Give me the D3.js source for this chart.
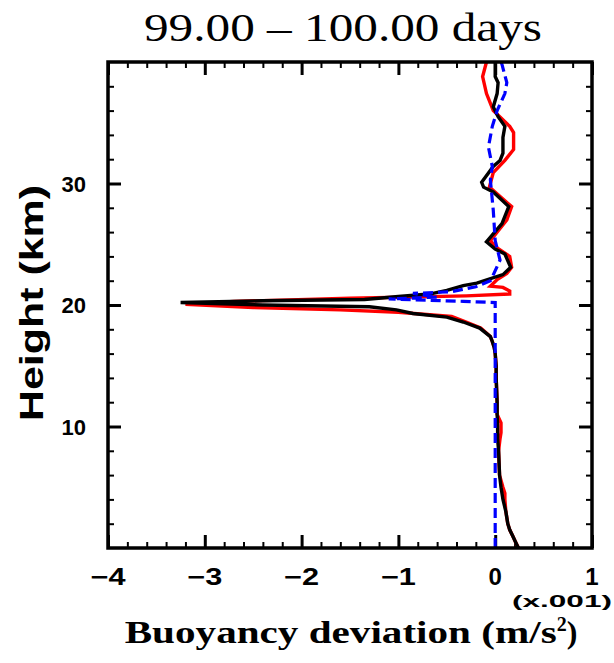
<!DOCTYPE html>
<html>
<head>
<meta charset="utf-8">
<script src="https://cdn.jsdelivr.net/npm/d3@7"></script>
<style>
  body { margin: 0; background: #fff; }
  svg { display: block; }
</style>
</head>
<body>
<svg id="chart" width="614" height="663"></svg>
<script>
// Profiles of buoyancy deviation (units of 0.001 m/s^2) against height (km)
const blackHeight = [0, 0.5, 1, 1.5, 2, 2.5, 3, 4, 5, 6, 7, 8, 9, 10, 11, 12, 13, 14, 15, 16, 16.5, 17, 17.4, 18.1, 18.6, 19.0, 19.3, 19.6, 19.85, 20.0, 20.2, 20.35, 20.45, 20.7, 20.9, 21.2, 21.6, 21.8, 22.5, 23.1, 24.2, 24.6, 25.2, 26.7, 28.1, 29.3, 29.7, 30.1, 31.4, 31.9, 32.5, 33.8, 34.7, 35.5, 36.3, 37.4, 38.3, 38.8, 40];
const blackValue  = [0.24, 0.21, 0.18, 0.15, 0.13, 0.12, 0.11, 0.08, 0.06, 0.045, 0.04, 0.035, 0.025, 0.025, 0.02, 0.02, 0.015, 0.01, 0.01, 0.0, -0.01, -0.03, -0.05, -0.16, -0.33, -0.5, -0.85, -1.02, -1.3, -2.4, -3.25, -2.4, -1.35, -1.0, -0.68, -0.5, -0.33, -0.19, 0.08, 0.16, 0.1, 0.0, -0.09, 0.07, 0.14, -0.02, -0.12, -0.14, -0.02, 0.05, 0.08, 0.08, 0.1, 0.03, -0.02, 0.02, 0.03, 0.0, 0.0];

const redHeight = [0, 0.5, 1, 1.5, 2, 2.5, 3, 4, 4.5, 5, 6, 7, 8, 9, 9.5, 10.3, 11, 12, 13, 14, 15, 16, 16.5, 17, 17.4, 18.1, 18.6, 19.05, 19.4, 19.6, 19.8, 20.05, 20.3, 20.55, 20.75, 20.9, 21.15, 21.45, 21.55, 22.1, 22.6, 23.1, 24.0, 24.8, 25.3, 27.0, 28.1, 29.7, 30.9, 31.9, 32.8, 34.2, 34.7, 36.0, 37.4, 38.8, 40];
const redValue  = [0.24, 0.21, 0.18, 0.15, 0.13, 0.12, 0.11, 0.1, 0.1, 0.08, 0.045, 0.04, 0.035, 0.05, 0.06, 0.06, 0.02, 0.02, 0.015, 0.01, 0.01, 0.0, -0.01, -0.03, -0.05, -0.15, -0.3, -0.45, -1.0, -1.6, -2.5, -3.2, -2.7, -1.5, -0.3, 0.15, 0.15, 0.08, -0.05, 0.02, 0.12, 0.17, 0.15, 0.0, -0.05, 0.12, 0.17, -0.06, -0.02, 0.1, 0.19, 0.19, 0.15, -0.02, -0.09, -0.13, -0.09];

const blueHeight = [0, 20.2, 20.3, 20.5, 20.65, 20.95, 21.1, 21.5, 22.0, 22.3, 23.7, 25.3, 27.8, 30.3, 31.4, 33.0, 34.7, 36.0, 37.4, 38.3, 39.8, 40];
const blueValue  = [0, 0, -0.33, -1.1, -0.6, -0.85, -0.45, -0.2, -0.05, -0.03, 0.05, 0.0, -0.02, -0.05, -0.03, -0.07, -0.03, 0.02, 0.1, 0.12, 0.07, 0.06];

const xTickValues = [-4, -3, -2, -1, 0, 1];
const xTickLabels = ["\u22124", "\u22123", "\u22122", "\u22121", "0", "1"];
const yTickValues = [10, 20, 30];
const yTickLabels = ["10", "20", "30"];

const titleText = "99.00 \u2013 100.00 days";
const xLabelText = "Buoyancy deviation (m/s";
const yLabelText = "Height  (km)";
const scaleNote = "(x.001)";

// Layout
const frameLeft = 108, frameRight = 592, frameTop = 62, frameBottom = 548;
const svg = d3.select("#chart");

const x = d3.scaleLinear().domain([-4, 1]).range([frameLeft, frameRight]);
const y = d3.scaleLinear().domain([0, 40]).range([frameBottom, frameTop]);

const xMinor = d3.range(-4, 1.0001, 0.2).filter(v => Math.abs(v - Math.round(v)) > 1e-6);
const yMinor = d3.range(0, 40.0001, 2).filter(v => v % 10 !== 0);

const majorLen = 13, minorLen = 6;

function styleTicks(g, width) {
  g.select(".domain").remove();
  g.selectAll(".tick line").attr("stroke", "#000").attr("stroke-width", width);
  g.selectAll(".tick text").remove();
}

// inward ticks on all four sides
const tickSets = [
  [() => d3.axisBottom(x), frameBottom, "x"],
  [() => d3.axisTop(x), frameTop, "x"],
  [() => d3.axisLeft(y), frameLeft, "y"],
  [() => d3.axisRight(y), frameRight, "y"]
];
tickSets.forEach(([makeAxis, pos, dir]) => {
  const tr = dir === "x" ? `translate(0,${pos})` : `translate(${pos},0)`;
  const majors = dir === "x" ? xTickValues : yTickValues;
  const minors = dir === "x" ? xMinor : yMinor;
  svg.append("g").attr("transform", tr)
    .call(makeAxis().tickValues(majors).tickSizeInner(-majorLen).tickSizeOuter(0))
    .call(g => styleTicks(g, 3));
  svg.append("g").attr("transform", tr)
    .call(makeAxis().tickValues(minors).tickSizeInner(-minorLen).tickSizeOuter(0))
    .call(g => styleTicks(g, 2));
});

// tick labels
const tickFont = "'Liberation Sans', Arial, sans-serif";
svg.append("g").selectAll("text").data(xTickValues).join("text")
  .attr("x", d => x(d)).attr("y", 585)
  .attr("text-anchor", "middle")
  .attr("font-family", tickFont).attr("font-weight", "bold").attr("font-size", 24)
  .each(function(d, i) {
    const t = d3.select(this).text(xTickLabels[i]);
    if (xTickLabels[i].length > 1) t.attr("textLength", 35).attr("lengthAdjust", "spacingAndGlyphs");
  });

svg.append("g").selectAll("text").data(yTickValues).join("text")
  .attr("x", 86).attr("y", d => y(d) + 8)
  .attr("text-anchor", "end")
  .attr("font-family", tickFont).attr("font-weight", "bold").attr("font-size", 22)
  .text((d, i) => yTickLabels[i]);

// profiles
const line = d3.line().x(d => x(d[1])).y(d => y(d[0]));
const pairs = (h, v) => h.map((hh, i) => [hh, v[i]]);

const plot = svg.append("g");
plot.append("path").datum(pairs(redHeight, redValue))
  .attr("d", line).attr("fill", "none").attr("stroke", "#ff0000")
  .attr("stroke-width", 3.4).attr("stroke-linejoin", "miter");
plot.append("path").datum(pairs(blackHeight, blackValue))
  .attr("d", line).attr("fill", "none").attr("stroke", "#000")
  .attr("stroke-width", 3.4).attr("stroke-linejoin", "miter");
plot.append("path").datum(pairs(blueHeight, blueValue))
  .attr("d", line).attr("fill", "none").attr("stroke", "#0000ff")
  .attr("stroke-width", 3.2).attr("stroke-dasharray", "10,5");

// frame
svg.append("rect")
  .attr("x", frameLeft).attr("y", frameTop)
  .attr("width", frameRight - frameLeft).attr("height", frameBottom - frameTop)
  .attr("fill", "none").attr("stroke", "#000").attr("stroke-width", 3.5);

// title
svg.append("text")
  .attr("x", 343).attr("y", 41)
  .attr("text-anchor", "middle")
  .attr("font-family", "'Liberation Serif', 'Times New Roman', serif")
  .attr("font-size", 41)
  .attr("textLength", 398).attr("lengthAdjust", "spacingAndGlyphs")
  .text(titleText);

// x axis label with superscript
const xl = svg.append("text")
  .attr("x", 351).attr("y", 643)
  .attr("text-anchor", "middle")
  .attr("font-family", "'Liberation Serif', 'Times New Roman', serif")
  .attr("font-weight", "bold").attr("font-size", 32);
xl.append("tspan").attr("textLength", 432).attr("lengthAdjust", "spacingAndGlyphs").text(xLabelText);
xl.append("tspan").attr("dy", -12).attr("font-size", 20).text("2");
xl.append("tspan").attr("dy", 12).text(")");

// scale note
svg.append("text")
  .attr("x", 612).attr("y", 607)
  .attr("text-anchor", "end")
  .attr("font-family", tickFont).attr("font-weight", "bold").attr("font-size", 17)
  .attr("textLength", 100).attr("lengthAdjust", "spacingAndGlyphs")
  .text(scaleNote);

// y axis label
svg.append("text")
  .attr("transform", "translate(43,303) rotate(-90)")
  .attr("text-anchor", "middle")
  .attr("font-family", tickFont).attr("font-weight", "bold").attr("font-size", 33)
  .attr("textLength", 236).attr("lengthAdjust", "spacingAndGlyphs")
  .text(yLabelText);
</script>
</body>
</html>
